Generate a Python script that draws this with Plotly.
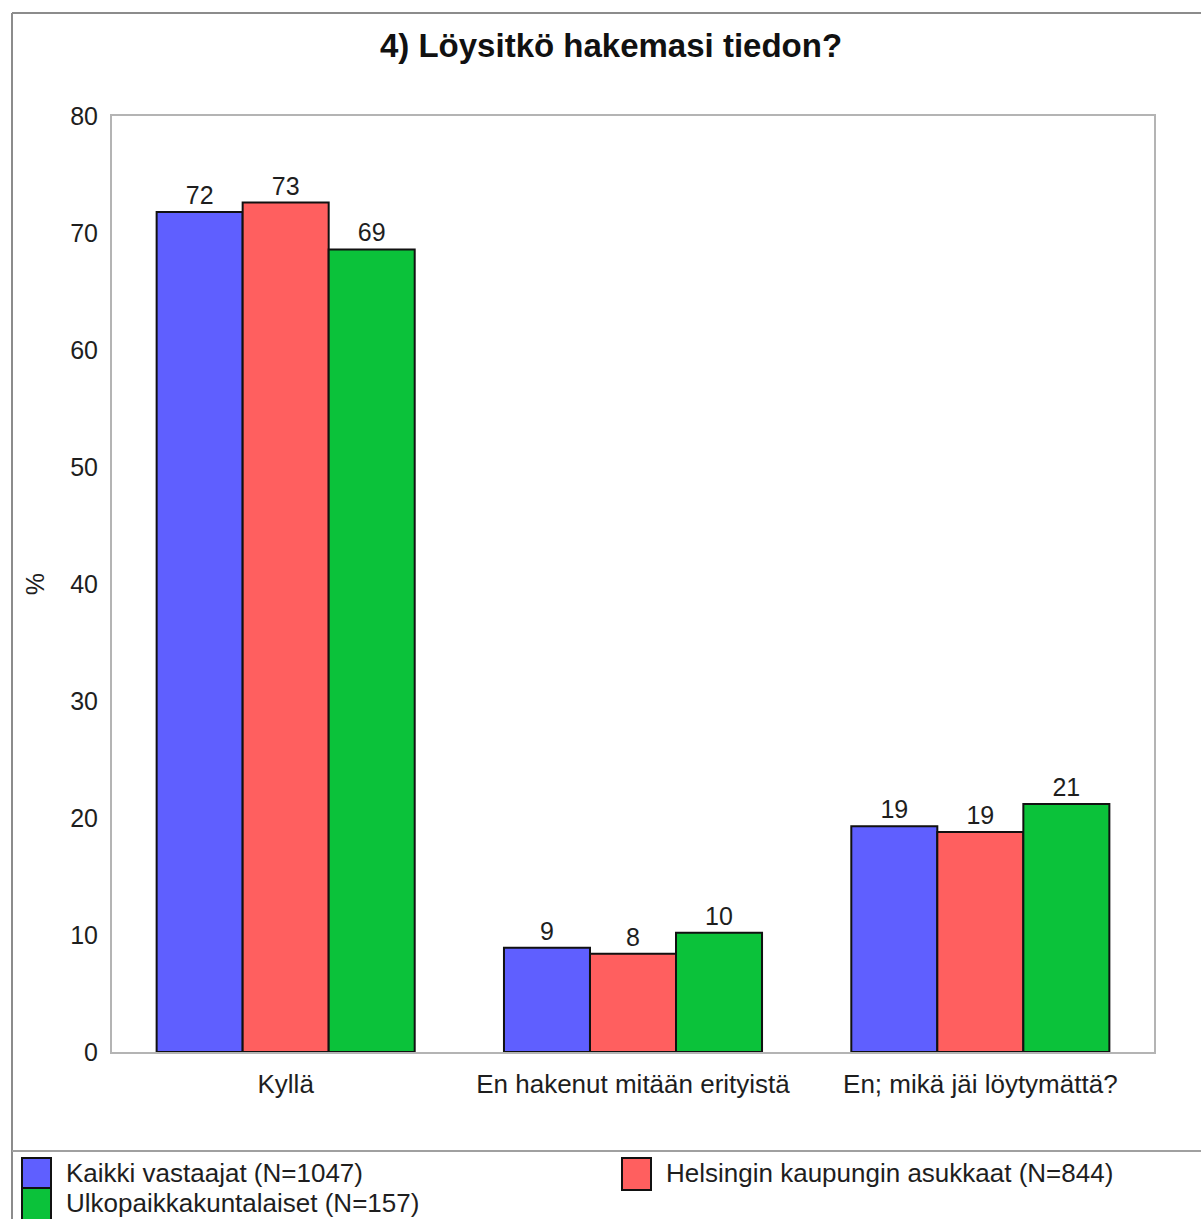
import plotly.graph_objects as go

categories = ["Kyllä", "En hakenut mitään erityistä", "En; mikä jäi löytymättä?"]
series_names = [
    "Kaikki vastaajat (N=1047)",
    "Helsingin kaupungin asukkaat (N=844)",
    "Ulkopaikkakuntalaiset (N=157)",
]
kaikki = [71.8, 8.9, 19.3]
helsinki = [72.6, 8.4, 18.8]
ulko = [68.6, 10.2, 21.2]
series_values = [kaikki, helsinki, ulko]
colors = ["#5f5fff", "#ff5f5f", "#0bc23a"]
y_ticks = [0, 10, 20, 30, 40, 50, 60, 70, 80]

W, H = 1201, 1219
FONT = "Liberation Sans, Arial, sans-serif"
TXT = "#1e1e1e"

fig = go.Figure()
for name, vals, col in zip(series_names, series_values, colors):
    fig.add_trace(go.Bar(
        x=categories, y=vals, name=name,
        marker=dict(color=col, line=dict(color="#111111", width=2)),
        texttemplate="%{y:.0f}", textposition="outside",
        textfont=dict(family=FONT, size=25, color=TXT),
        cliponaxis=False, showlegend=False,
    ))

# plot area in pixels
L, R, T, B = 112, 1154, 116, 1052

fig.update_layout(
    width=W, height=H,
    margin=dict(l=L, r=W - R, t=T, b=H - B, autoexpand=False),
    paper_bgcolor="white", plot_bgcolor="white",
    barmode="group", bargap=0.257, bargroupgap=0,
    font=dict(family=FONT, color=TXT),
    title=dict(text="<b>4) Löysitkö hakemasi tiedon?</b>", x=611 / W, xanchor="center",
               y=1 - 45 / H, yanchor="middle", font=dict(family=FONT, size=33, color="#111111")),
    xaxis=dict(showgrid=False, showline=True, linecolor="#b4b4b4", linewidth=2, mirror=True,
               ticks="outside", ticklen=8, tickcolor="rgba(0,0,0,0)",
               tickfont=dict(family=FONT, size=26, color=TXT)),
    yaxis=dict(range=[0, 80], tickvals=y_ticks, showgrid=False, zeroline=False,
               showline=True, linecolor="#b4b4b4", linewidth=2, mirror=True,
               ticks="outside", ticklen=7, tickcolor="rgba(0,0,0,0)",
               tickfont=dict(family=FONT, size=25, color=TXT),
               title=dict(text="%", standoff=18, font=dict(family=FONT, size=25, color=TXT))),
)

# outer frame and legend separator
frame_col = "#8c8c8c"
fig.add_shape(type="line", xref="paper", yref="paper",
              x0=(12 - L) / (R - L), x1=(W + 5 - L) / (R - L),
              y0=(B - 13) / (B - T), y1=(B - 13) / (B - T),
              line=dict(color=frame_col, width=2))
fig.add_shape(type="line", xref="paper", yref="paper",
              x0=(12 - L) / (R - L), x1=(12 - L) / (R - L),
              y0=(B - 13) / (B - T), y1=(B - H - 5) / (B - T),
              line=dict(color=frame_col, width=2))
fig.add_shape(type="line", xref="paper", yref="paper",
              x0=(12 - L) / (R - L), x1=(W + 5 - L) / (R - L),
              y0=(B - 1151) / (B - T), y1=(B - 1151) / (B - T),
              line=dict(color="#a0a0a0", width=2))

# legend drawn as swatches and labels
def px_x(x):
    return (x - L) / (R - L)

def px_y(y):
    return (B - y) / (B - T)

legend_pos = [(22, 1158), (622, 1158), (22, 1188)]
for (lx, ly), name, col in zip(legend_pos, series_names, colors):
    fig.add_shape(type="rect", xref="paper", yref="paper",
                  x0=px_x(lx), x1=px_x(lx + 29), y0=px_y(ly), y1=px_y(ly + 32),
                  fillcolor=col, line=dict(color="#111111", width=2))
    fig.add_annotation(xref="paper", yref="paper", x=px_x(lx + 42), y=px_y(ly + 15),
                       text=name, showarrow=False, xanchor="left", yanchor="middle",
                       font=dict(family=FONT, size=26, color=TXT))

fig.write_html("out.html")
